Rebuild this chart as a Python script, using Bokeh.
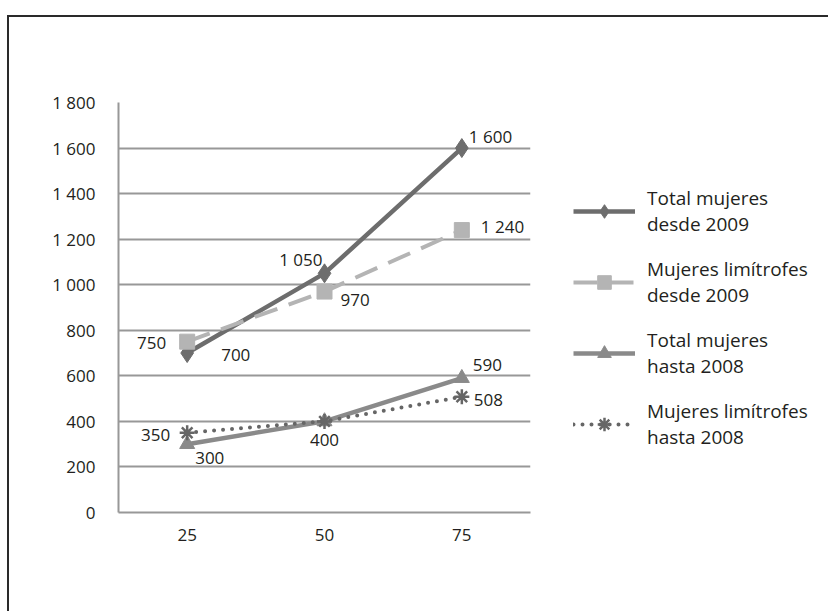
from bokeh.plotting import figure
from bokeh.models import (ColumnDataSource, FactorRange, Range1d, FixedTicker,
                          Legend, LegendItem)
from bokeh.core.properties import value
from bokeh.embed import file_html
from bokeh.resources import INLINE

# ---------------- data ----------------
categories = ["25", "50", "75"]
total_desde_2009 = [700, 1050, 1600]
limitrofes_desde_2009 = [750, 970, 1240]
total_hasta_2008 = [300, 400, 590]
limitrofes_hasta_2008 = [350, 400, 508]
y_ticks = [0, 200, 400, 600, 800, 1000, 1200, 1400, 1600, 1800]
y_tick_labels = ["0", "200", "400", "600", "800", "1 000", "1 200", "1 400", "1 600", "1 800"]
series_names = ["Total mujeres\ndesde 2009", "Mujeres limítrofes\ndesde 2009",
                "Total mujeres\nhasta 2008", "Mujeres limítrofes\nhasta 2008"]

def fmt(v):
    return f"{v:,}".replace(",", " ")

FONT = "Open Sans"
FS = "17px"
TXT = "#231f20"

p = figure(x_range=FactorRange(*categories), y_range=Range1d(0, 1800),
           frame_width=412, frame_height=410, output_backend="svg", toolbar_location=None,
           min_border_left=109, min_border_top=85, min_border_right=290,
           min_border_bottom=99)
p.styles = {"border-left": "2px solid #2a2a2a", "border-top": "2px solid #2a2a2a",
            "margin-top": "15px", "margin-left": "7px"}
p.outline_line_color = None
p.background_fill_color = "white"
p.border_fill_color = "white"

# axes
p.yaxis.ticker = FixedTicker(ticks=y_ticks)
p.yaxis.major_label_overrides = {t: l for t, l in zip(y_ticks, y_tick_labels)}
for ax in (p.xaxis, p.yaxis):
    ax.axis_line_color = "#989898"
    ax.axis_line_width = 2
    ax.major_tick_line_color = None
    ax.minor_tick_line_color = None
    ax.major_label_text_font = FONT
    ax.major_label_text_font_size = FS
    ax.major_label_text_color = TXT
p.yaxis.major_label_standoff = 17
p.xaxis.major_label_standoff = 10
p.xgrid.grid_line_color = None
p.ygrid.grid_line_color = "#989898"
p.ygrid.grid_line_width = 2

src = ColumnDataSource(dict(x=categories, a=total_desde_2009, b=limitrofes_desde_2009,
                            c=total_hasta_2008, d=limitrofes_hasta_2008))

c1, c2, c3, c4 = "#6d6d6d", "#b4b4b4", "#8a8a8a", "#666666"

l3 = p.line("x", "c", source=src, line_color=c3, line_width=4.5)
m3 = p.scatter("x", "c", source=src, marker="triangle", size=15, fill_color=c3, line_color=c3)
l4 = p.line("x", "d", source=src, line_color=c4, line_width=4, line_dash="0 9", line_cap="round")
m4 = p.scatter("x", "d", source=src, marker="asterisk", size=15, line_color=c4, line_width=2.5)
l1 = p.line("x", "a", source=src, line_color=c1, line_width=4.5)
m1 = p.scatter("x", "a", source=src, marker="diamond", size=19, fill_color=c1, line_color=c1)
l2 = p.line("x", "b", source=src, line_color=c2, line_width=4, line_dash="24 12")
m2 = p.scatter("x", "b", source=src, marker="square", size=15, fill_color=c2, line_color=c2)

def add_label(vals, i, dx, dy, align):
    s = ColumnDataSource(dict(x=[categories[i]], y=[vals[i]], t=[fmt(vals[i])]))
    p.text(x="x", y="y", text="t", source=s, x_offset=dx, y_offset=dy,
           text_align=align, text_baseline="middle", text_font=value(FONT),
           text_font_size=FS, text_color=TXT)

add_label(total_desde_2009, 0, 34, 2, "left")
add_label(total_desde_2009, 1, -2, -14, "right")
add_label(total_desde_2009, 2, 7, -12, "left")
add_label(limitrofes_desde_2009, 0, -21, 1, "right")
add_label(limitrofes_desde_2009, 1, 16, 8, "left")
add_label(limitrofes_desde_2009, 2, 19, -4, "left")
add_label(total_hasta_2008, 0, 8, 14, "left")
add_label(total_hasta_2008, 1, 0, 19, "center")
add_label(total_hasta_2008, 2, 11, -13, "left")
add_label(limitrofes_hasta_2008, 0, -17, 2, "right")
add_label(limitrofes_hasta_2008, 2, 12, 3, "left")

legend = Legend(items=[
    LegendItem(label=series_names[0], renderers=[l1, m1]),
    LegendItem(label=series_names[1], renderers=[l2, m2]),
    LegendItem(label=series_names[2], renderers=[l3, m3]),
    LegendItem(label=series_names[3], renderers=[l4, m4]),
], location=(43, 62))
legend.label_text_font = FONT
legend.label_text_font_size = "19px"
legend.label_text_line_height = 1.3
legend.label_text_color = TXT
legend.glyph_width = 62
legend.glyph_height = 34
legend.spacing = 19
legend.padding = 0
legend.margin = 0
legend.label_standoff = 12
legend.border_line_color = None
legend.background_fill_alpha = 0
p.add_layout(legend, "right")

open("out.html", "w").write(file_html(p, INLINE))
